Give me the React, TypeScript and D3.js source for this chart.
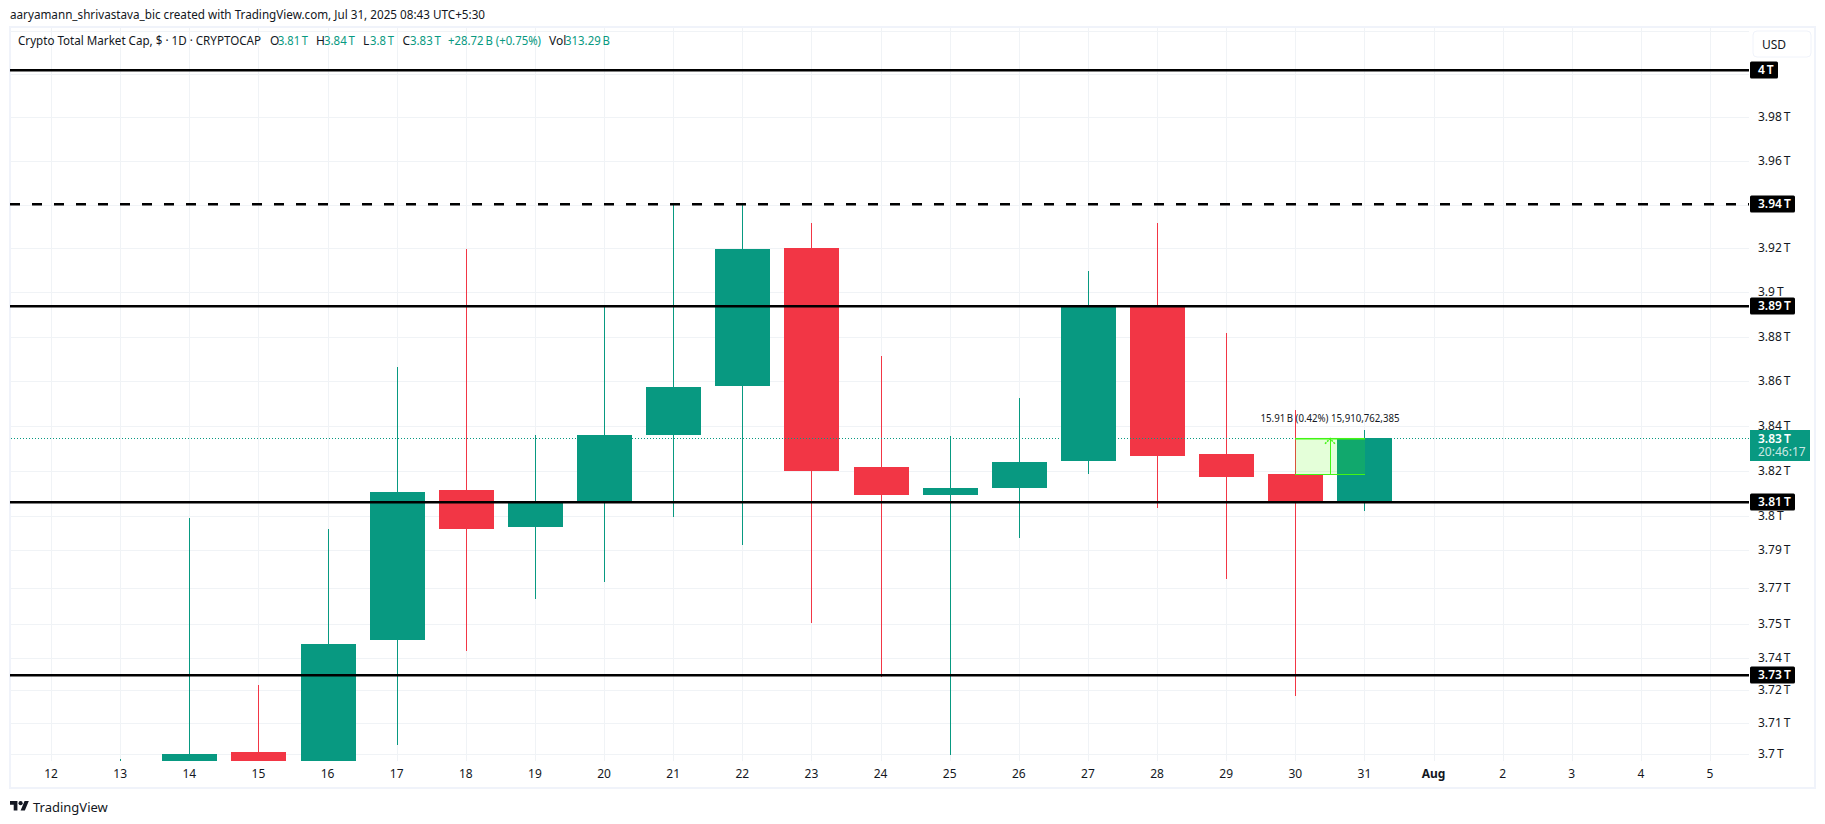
import React from "react";
import * as d3 from "d3";

const W = 1825, H = 824;
const FONT = "'Noto Sans', 'Open Sans', sans-serif";
const INK = "#131722", GREEN = "#089981", RED = "#F23645", GRID = "#f0f3f6", FRAME = "#f0f3fa", MEASURE = "#43f515";

const axisDays = ["12","13","14","15","16","17","18","19","20","21","22","23","24","25","26","27","28","29","30","31","Aug","2","3","4","5"];

// candle slot = index in axisDays
const slots  = [1, 2, 3, 4, 5, 6, 7, 8, 9, 10, 11, 12, 13, 14, 15, 16, 17, 18, 19];
const opens  = [3.68, 3.69, 3.7008, 3.69, 3.7482, 3.8129, 3.7969, 3.8077, 3.837, 3.8584, 3.9196, 3.8229, 3.8107, 3.8138, 3.8255, 3.8934, 3.8286, 3.8199, 3.8077];
const highs  = [3.6977, 3.8007, 3.7292, 3.796, 3.8669, 3.919, 3.837, 3.8934, 3.939, 3.939, 3.9308, 3.8716, 3.8365, 3.8532, 3.9093, 3.9308, 3.8819, 3.8478, 3.8391];
const lows   = [3.67, 3.685, 3.68, 3.68, 3.7037, 3.7436, 3.7658, 3.7731, 3.8012, 3.789, 3.7555, 3.7326, 3.6992, 3.7921, 3.8199, 3.8051, 3.7744, 3.7244, 3.8038];
const closes = [3.69, 3.6998, 3.69, 3.7466, 3.8121, 3.796, 3.8073, 3.837, 3.858, 3.919, 3.8212, 3.8107, 3.8138, 3.8252, 3.8934, 3.8278, 3.8186, 3.8077, 3.8357];

// price axis: true tick values and the rounded labels the chart prints
const tickValues = [4.018, 3.9982, 3.9786, 3.9587, 3.9391, 3.9194, 3.8998, 3.88, 3.8605, 3.8407, 3.821, 3.8015, 3.7868, 3.7707, 3.755, 3.7404, 3.7268, 3.7128, 3.7];
const tickLabels = ["", "", "3.98", "3.96", "", "3.92", "3.9", "3.88", "3.86", "3.84", "3.82", "3.8", "3.79", "3.77", "3.75", "3.74", "3.72", "3.71", "3.7"];

const levelValues = [4.0, 3.9392, 3.8937, 3.8077, 3.7333];
const levelLabels = ["4", "3.94", "3.89", "3.81", "3.73"];
const levelDashed = [false, true, false, false, false];

const lastPrice = 3.8357;
const measureTop = 3.8357, measureBottom = 3.8199;

const legendItems = [
  { x: 270, t: "O", c: INK, w: 0 }, { x: 278, t: "3.81\u202fT", c: GREEN, w: 30 },
  { x: 316, t: "H", c: INK, w: 0 }, { x: 324, t: "3.84\u202fT", c: GREEN, w: 31 },
  { x: 363, t: "L", c: INK, w: 0 }, { x: 370, t: "3.8\u202fT", c: GREEN, w: 24 },
  { x: 402.5, t: "C", c: INK, w: 0 }, { x: 410, t: "3.83\u202fT", c: GREEN, w: 31 },
  { x: 448, t: "+28.72\u202fB (+0.75%)", c: GREEN, w: 93 },
  { x: 549, t: "Vol", c: INK, w: 0 }, { x: 565, t: "313.29\u202fB", c: GREEN, w: 45 },
];

const PLOT = { left: 11, right: 1749, top: 28, bottom: 761 };

export default function App() {
  const x = d3.scaleLinear().domain([0, 24]).range([51.1, 1710]);
  const y = d3.scaleLog().domain([3.7, 4.0]).range([753.6, 70]);
  const bw = 55;
  const T = (s: string) => s + "\u202fT";

  return (
    <svg width={W} height={H} viewBox={`0 0 ${W} ${H}`} style={{ position: "absolute", left: 0, top: 0, background: "#fff" }} fontFamily={FONT}>
      <defs>
        <clipPath id="plot"><rect x={PLOT.left} y={PLOT.top} width={PLOT.right - PLOT.left} height={PLOT.bottom - PLOT.top} /></clipPath>
      </defs>

      <text x={10} y={19} fontSize={12} fill={INK} textLength={475} lengthAdjust="spacingAndGlyphs">aaryamann_shrivastava_bic created with TradingView.com, Jul 31, 2025 08:43 UTC+5:30</text>

      <rect x={10} y={27} width={1805} height={761} fill="#fff" stroke={FRAME} strokeWidth={2} />

      {/* grid */}
      <g shapeRendering="crispEdges" stroke={GRID} strokeWidth={1}>
        {tickValues.map((v, i) => <line key={i} x1={PLOT.left} x2={PLOT.right} y1={Math.round(y(v)) + 0.5} y2={Math.round(y(v)) + 0.5} />)}
        {axisDays.map((d, i) => <line key={d} x1={Math.round(x(i)) + 0.5} x2={Math.round(x(i)) + 0.5} y1={PLOT.top} y2={PLOT.bottom} />)}
      </g>

      {/* candles */}
      <g clipPath="url(#plot)" shapeRendering="crispEdges">
        {slots.map((s, i) => {
          const c = closes[i] >= opens[i] ? GREEN : RED;
          const top = y(Math.max(opens[i], closes[i]));
          const bot = y(Math.min(opens[i], closes[i]));
          const cx = Math.round(x(s));
          return (
            <g key={s}>
              <rect x={cx} y={y(highs[i])} width={1} height={y(lows[i]) - y(highs[i])} fill={c} />
              <rect x={cx - (bw - 1) / 2} y={top} width={bw} height={Math.max(1, bot - top)} fill={c} />
            </g>
          );
        })}
      </g>

      {/* last price line */}
      <line x1={PLOT.left} x2={PLOT.right} y1={Math.round(y(lastPrice)) + 0.5} y2={Math.round(y(lastPrice)) + 0.5} stroke={GREEN} strokeWidth={1} strokeDasharray="1 2" shapeRendering="crispEdges" />

      {/* horizontal levels */}
      <g>
        {levelValues.map((v, i) => (
          <line key={i} x1={10} x2={PLOT.right} y1={Math.round(y(v)) + 0.2} y2={Math.round(y(v)) + 0.2} stroke="#000" strokeWidth={2.4} strokeDasharray={levelDashed[i] ? "10 12" : undefined} />
        ))}
      </g>

      {/* price range measure */}
      {(() => {
        const x0 = Math.round(x(18)), x1 = Math.round(x(19)) + 1, mx = (x0 + x1) / 2;
        const t = y(measureTop), b = y(measureBottom);
        return (
          <g>
            <rect x={x0} y={t} width={x1 - x0} height={b - t} fill="#4cff00" fillOpacity={0.15} />
            <g stroke={MEASURE}>
              <line x1={x0} x2={x1} y1={Math.round(t) + 0.8} y2={Math.round(t) + 0.8} strokeWidth={1.5} />
              <line x1={x0} x2={x1} y1={Math.round(b) + 0.5} y2={Math.round(b) + 0.5} strokeWidth={1} />
              <line x1={Math.round(mx) + 0.5} x2={Math.round(mx) + 0.5} y1={t} y2={b} strokeWidth={1} />
            </g>
            <path d={`M${mx - 5} ${t + 6}L${mx} ${t + 1}L${mx + 5} ${t + 6}`} fill="none" stroke={MEASURE} strokeWidth={1.5} strokeDasharray="2 1" />
            <text x={mx} y={t - 16} fontSize={10} fill={INK} textAnchor="middle" textLength={139} lengthAdjust="spacingAndGlyphs">15.91{"\u202f"}B (0.42%) 15,910,762,385</text>
          </g>
        );
      })()}

      {/* legend */}
      <text x={18} y={45} fontSize={12} fill={INK} textLength={243} lengthAdjust="spacingAndGlyphs">Crypto Total Market Cap, $ · 1D · CRYPTOCAP</text>
      {legendItems.map((it) => (
        <text key={it.x} x={it.x} y={45} fontSize={12} fill={it.c} textLength={it.w || undefined} lengthAdjust={it.w ? "spacingAndGlyphs" : undefined}>{it.t}</text>
      ))}

      {/* USD button */}
      <rect x={1753} y={31} width={58} height={26} rx={4} fill="#fff" stroke={FRAME} strokeWidth={1} />
      <text x={1762} y={49} fontSize={12} fill={INK}>USD</text>

      {/* price axis labels */}
      {tickLabels.map((l, i) => l && (
        <text key={i} x={1758} y={y(tickValues[i]) + 4} fontSize={12} fill={INK}>{T(l)}</text>
      ))}

      {/* time axis labels */}
      {axisDays.map((d, i) => (
        <text key={d} x={x(i)} y={778} fontSize={12} fill={INK} textAnchor="middle" fontWeight={d === "Aug" ? 700 : 400}>{d}</text>
      ))}

      {/* level badges */}
      {levelValues.map((v, i) => {
        const cy = Math.round(y(v));
        const w = levelLabels[i].length === 1 ? 28 : 45;
        return (
          <g key={i}>
            <rect x={1750} y={cy - 8.5} width={w} height={17} rx={1.5} fill="#000" />
            <text x={1758} y={cy + 4} fontSize={12} fontWeight={600} fill="#fff">{T(levelLabels[i])}</text>
          </g>
        );
      })}

      {/* last price badge */}
      <rect x={1750} y={430} width={60} height={31} fill={GREEN} />
      <text x={1758} y={y(lastPrice) + 5} fontSize={12} fontWeight={600} fill="#fff">3.83{"\u202f"}T</text>
      <text x={1758} y={456} fontSize={12} fill="#fff" fillOpacity={0.8}>20:46:17</text>

      {/* footer */}
      <g transform="translate(10 798.9) scale(0.53)" fill="#131722">
        <path d="M14 22H7V11H0V4h14v18zM28 22h-8l7.5-18h8L28 22z" />
        <circle cx={20} cy={8} r={4} />
      </g>
      <text x={33} y={812} fontSize={13} fill={INK}>TradingView</text>
    </svg>
  );
}
